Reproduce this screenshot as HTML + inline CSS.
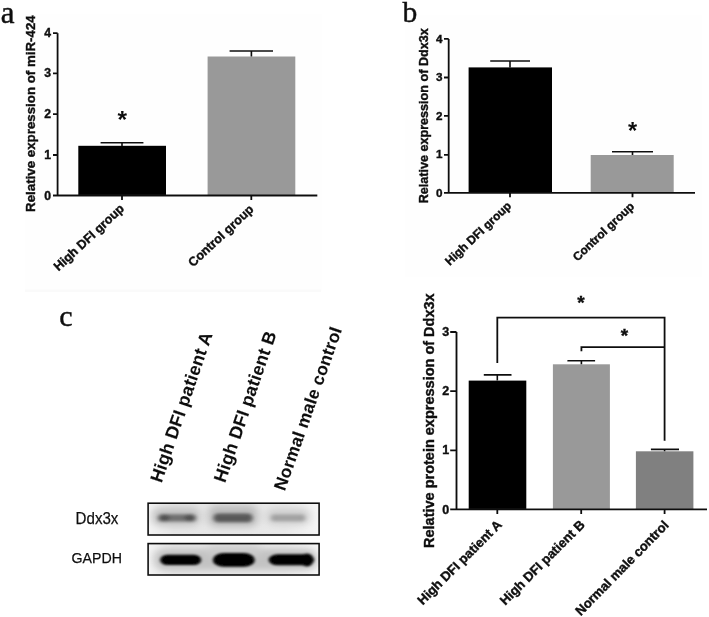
<!DOCTYPE html>
<html lang="en">
<head>
<meta charset="utf-8">
<title>Figure</title>
<style>
html,body{margin:0;padding:0;background:#fff;}
body{width:709px;height:617px;overflow:hidden;}
svg{display:block;}
.s{font-family:"Liberation Serif",serif;font-size:31px;fill:#111;stroke:#111;stroke-width:0.45;}
.b{font-family:"Liberation Sans",sans-serif;font-weight:bold;fill:#111;stroke:#111;stroke-width:0.4;}
.r{font-family:"Liberation Sans",sans-serif;fill:#111;}
.ln{stroke:#111;stroke-width:1.8;fill:none;}
</style>
</head>
<body>
<svg width="709" height="617" viewBox="0 0 709 617">
<defs>
<filter id="bl1" x="-20%" y="-60%" width="140%" height="220%"><feGaussianBlur stdDeviation="2.2 1.7"/></filter>
<filter id="bl2" x="-20%" y="-60%" width="140%" height="220%"><feGaussianBlur stdDeviation="1.6 1.2"/></filter>
<filter id="halo" x="-30%" y="-80%" width="160%" height="260%"><feGaussianBlur stdDeviation="4 3"/></filter>
<filter id="soft"><feGaussianBlur stdDeviation="0.45"/></filter>
<linearGradient id="bg1" x1="0" y1="0" x2="1" y2="0">
<stop offset="0" stop-color="#f4f4f4"/><stop offset="0.15" stop-color="#e6e6e6"/><stop offset="0.8" stop-color="#e9e9e9"/><stop offset="1" stop-color="#f6f6f6"/>
</linearGradient>
</defs>
<rect x="0" y="0" width="709" height="617" fill="#ffffff"/>
<!-- faint panel backgrounds -->
<rect x="25" y="14" width="297" height="277" fill="#fefefe"/>
<rect x="405" y="15" width="297" height="262" fill="#fefefe"/>
<rect x="25" y="289.5" width="296" height="2.5" fill="#fafafa"/>

<g filter="url(#soft)">
<!-- ================= panel a ================= -->
<text class="s" x="0.7" y="22.5">a</text>
<text class="b" font-size="13.3" transform="translate(35,211.9) rotate(-90)">Relative expression of miR-424</text>
<g class="b" font-size="12.2" text-anchor="end">
<text x="51.1" y="37.2">4</text>
<text x="51.1" y="77.4">3</text>
<text x="51.1" y="118.1">2</text>
<text x="51.1" y="159">1</text>
<text x="51.1" y="199.5">0</text>
</g>
<rect x="78.3" y="145.8" width="87.7" height="49.7" fill="#000"/>
<rect x="207.6" y="56.5" width="87.7" height="139" fill="#999"/>
<path class="ln" d="M57.6 33.2V195.5H317.3 M53 33.2H57.6 M53 73.4H57.6 M53 114.1H57.6 M53 155H57.6 M53 195.5H57.6 M122 195.5V200 M251.3 195.5V200"/>
<path class="ln" style="stroke-width:1.6" d="M100.6 142.8H143.4 M122 142.8V146 M229.6 51H273 M251.4 51V56.5"/>
<text class="b" font-size="24.5" style="stroke-width:0" text-anchor="middle" x="122.2" y="128.1">*</text>
<text class="b" font-size="12.6" text-anchor="end" transform="translate(125,209.6) rotate(-43)">High DFI group</text>
<text class="b" font-size="12.6" text-anchor="end" transform="translate(254.4,210.3) rotate(-43)">Control group</text>

<!-- ================= panel b ================= -->
<text class="s" style="font-size:29.5px" x="402.4" y="22.3">b</text>
<text class="b" font-size="12.6" transform="translate(427.5,203.3) rotate(-90)">Relative expression of Ddx3x</text>
<g class="b" font-size="11.7" text-anchor="end">
<text x="442.5" y="42.6">4</text>
<text x="442.5" y="81.1">3</text>
<text x="442.5" y="119.5">2</text>
<text x="442.5" y="158.3">1</text>
<text x="442.5" y="196.5">0</text>
</g>
<rect x="468.6" y="67.4" width="83.4" height="125.4" fill="#000"/>
<rect x="590.7" y="155" width="83" height="37.8" fill="#999"/>
<path class="ln" d="M448.7 38.9V192.8H695 M444 38.9H448.7 M444 77.5H448.7 M444 115.9H448.7 M444 154.8H448.7 M444 192.8H448.7 M510 192.8V197.3 M632.5 192.8V197.3"/>
<path class="ln" style="stroke-width:1.6" d="M490.2 61H530 M510 61V67.4 M612 151.8H653 M632.5 151.8V155"/>
<text class="b" font-size="23.5" style="stroke-width:0" text-anchor="middle" x="632.5" y="138.5">*</text>
<text class="b" font-size="11.9" text-anchor="end" transform="translate(512,206.8) rotate(-43.5)">High DFI group</text>
<text class="b" font-size="11.9" text-anchor="end" transform="translate(635,207.2) rotate(-43.5)">Control group</text>

<!-- ================= panel c : blot ================= -->
<text class="s" style="font-size:30px" x="59.3" y="325.9">c</text>
<g class="b" font-size="17.6" letter-spacing="0.2" style="stroke-width:0.1">
<text font-size="17.9" transform="translate(161.4,483.6) rotate(-71)">High DFI patient A</text>
<text font-size="17.9" transform="translate(225,483.6) rotate(-71)">High DFI patient B</text>
<text font-size="17.4" transform="translate(284.8,491.6) rotate(-70.5)">Normal male control</text>
</g>
<text class="r" font-size="16.3" x="75.6" y="524.2" textLength="42.8" lengthAdjust="spacingAndGlyphs" stroke="#111" stroke-width="0.25">Ddx3x</text>
<text class="r" font-size="15.3" x="71.6" y="563.4" textLength="50.4" lengthAdjust="spacingAndGlyphs" stroke="#111" stroke-width="0.25">GAPDH</text>

<clipPath id="cp1"><rect x="148" y="503" width="171.3" height="32"/></clipPath>
<clipPath id="cp2"><rect x="148" y="543.4" width="171.3" height="31.6"/></clipPath>
<rect x="148" y="503" width="171.3" height="32" fill="url(#bg1)"/>
<rect x="148" y="543.4" width="171.3" height="31.6" fill="url(#bg1)"/>
<g clip-path="url(#cp1)">
<g filter="url(#halo)">
<rect x="152" y="507" width="48" height="19" rx="8" fill="#c4c4c4"/>
<rect x="208" y="505" width="50" height="22" rx="8" fill="#bdbdbd"/>
<rect x="266" y="508" width="44" height="17" rx="8" fill="#d0d0d0"/>
</g>
<g filter="url(#bl1)">
<rect x="158" y="514.2" width="38" height="7.4" rx="3.7" fill="#707070"/>
<ellipse cx="164.5" cy="517.9" rx="5" ry="3.4" fill="#505050"/>
<ellipse cx="189.5" cy="517.9" rx="5" ry="3.4" fill="#505050"/>
<rect x="213.5" y="513.6" width="39" height="8.6" rx="4.3" fill="#585858"/>
<rect x="271" y="514.6" width="34" height="6.6" rx="3.3" fill="#a2a2a2"/>
</g>
</g>
<g clip-path="url(#cp2)">
<g filter="url(#halo)">
<rect x="154" y="549" width="163" height="21" rx="9" fill="#c2c2c2"/>
<rect x="206" y="545" width="56" height="12" rx="6" fill="#cccccc"/>
</g>
<g filter="url(#bl2)">
<rect x="160.2" y="554.7" width="41" height="10.4" rx="7" ry="5.2" fill="#000"/>
<rect x="212.8" y="553" width="42" height="13.8" rx="11" ry="6.9" fill="#000"/>
<rect x="268.6" y="554.3" width="45.5" height="11" rx="9" ry="5.5" fill="#000"/>
<ellipse cx="307" cy="559.9" rx="6.5" ry="6.5" fill="#000"/>
</g>
</g>
<rect x="148.1" y="503.2" width="171" height="31.8" fill="none" stroke="#111" stroke-width="1.6"/>
<rect x="148.1" y="543.6" width="171" height="31.4" fill="none" stroke="#111" stroke-width="1.6"/>

<!-- ================= panel c : chart ================= -->
<text class="b" font-size="14.5" transform="translate(434,548) rotate(-90)">Relative protein expression of Ddx3x</text>
<g class="b" font-size="12.5" text-anchor="end">
<text x="449.2" y="335.7">3</text>
<text x="449.2" y="394.9">2</text>
<text x="449.2" y="454.2">1</text>
<text x="449.2" y="513.5">0</text>
</g>
<rect x="468.7" y="380.6" width="57.6" height="128.8" fill="#000"/>
<rect x="552.9" y="364.3" width="57" height="145.1" fill="#999"/>
<rect x="635.9" y="451.3" width="57.5" height="58.1" fill="#808080"/>
<path class="ln" d="M456.5 332V509.4H707 M450.2 332H456.5 M450.2 391.2H456.5 M450.2 450.3H456.5 M450.2 509.4H456.5 M497.3 509.4V514 M581.2 509.4V514 M664.6 509.4V514"/>
<path class="ln" style="stroke-width:1.6" d="M483.8 374.9H511.5 M497.3 374.9V380.6 M567.4 360.7H595.1 M581.4 360.7V364.3 M650.9 449.4H679 M664.6 449.4V451.3"/>
<path class="ln" d="M497.3 363V317.6H664.6V440.7 M581.4 351.3V347.2H664.6"/>
<text class="b" font-size="19" text-anchor="middle" x="580.9" y="308.6">*</text>
<text class="b" font-size="19" text-anchor="middle" x="624.4" y="342">*</text>
<g class="b" font-size="13.1" text-anchor="end">
<text transform="translate(502.6,525.6) rotate(-45)">High DFI patient A</text>
<text transform="translate(585.6,525.6) rotate(-45)">High DFI patient B</text>
<text transform="translate(669.5,526) rotate(-45.5)">Normal male control</text>
</g>
</g>
</svg>
</body>
</html>
